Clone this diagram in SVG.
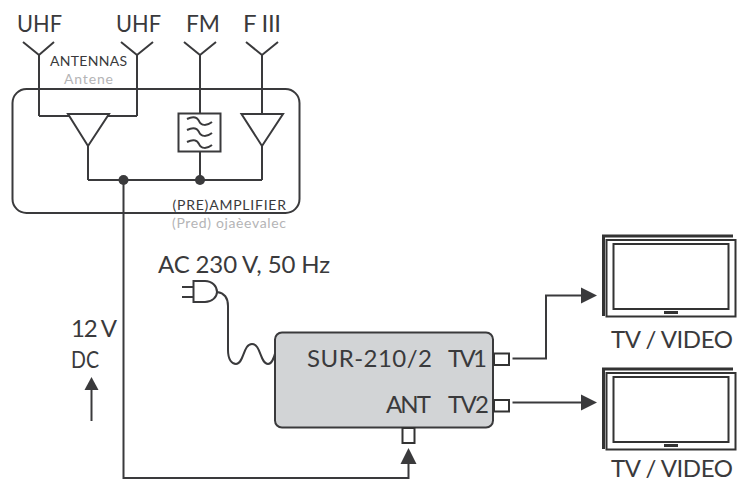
<svg xmlns="http://www.w3.org/2000/svg" width="748" height="482" viewBox="0 0 748 482">
<style>
text{font-family:Lato,"Liberation Sans",Arial,sans-serif;fill:#3a3a3c}
.l{fill:none;stroke:#3a3a3c;stroke-width:2}
.t{font-size:24px}
.s{font-size:14px}
.g{fill:#b4b4b6}
.a{fill:#3a3a3c;stroke:none}
.tv{fill:#fff;stroke:#333;stroke-width:2}
</style>
<rect width="748" height="482" fill="#fff"/>
<g id="preamplifier">
<rect class="l" x="12.500" y="89" width="287" height="124" rx="14"/>
<text class="s" x="172.500" y="210" textLength="113.500">(PRE)AMPLIFIER</text>
<text class="s g" x="172" y="228" textLength="114">(Pred) ojaèevalec</text>
</g>
<g id="antenna-uhf-1">
<path class="l" d="M23 42L39 55L54 42M39 55V116"/>
<text class="t" x="17" y="32" textLength="45" lengthAdjust="spacingAndGlyphs">UHF</text>
</g>
<g id="antenna-uhf-2">
<path class="l" d="M121 42L137 55L153 42M137 55V116"/>
<text class="t" x="116" y="32" textLength="45" lengthAdjust="spacingAndGlyphs">UHF</text>
</g>
<g id="antenna-fm">
<path class="l" d="M184 42L200 55L216 42M200 55V113"/>
<text class="t" x="186" y="32" textLength="34" lengthAdjust="spacingAndGlyphs">FM</text>
</g>
<g id="antenna-fiii">
<path class="l" d="M246 42L262 55L278 42M262 55V114"/>
<text class="t" x="243" y="32" textLength="38">F III</text>
</g>
<g id="antennas-label">
<text class="s" x="50" y="66" textLength="77">ANTENNAS</text>
<text class="s g" x="64" y="84" textLength="49">Antene</text>
</g>
<g id="amp-uhf">
<path class="l" d="M39 116H69M108 116H137"/>
<path class="l" d="M68 114H109L88 146Z"/>
<path class="l" d="M88 146V180"/>
</g>
<g id="filter-fm">
<rect class="l" x="178.500" y="113.500" width="42" height="38"/>
<path class="l" d="M187 119C193 116 197 117 199 121C201 126 207 126 212 122M187 130C193 127 197 128 199 132C201 137 207 137 212 133M187 142C193 139 197 140 199 144C201 149 207 149 212 145" stroke-width="1.500"/>
<path class="l" d="M200 152V180"/>
</g>
<g id="amp-fiii">
<path class="l" d="M241.500 114H283L262 146Z"/>
<path class="l" d="M262 146V180"/>
</g>
<g id="connectors">
<path class="l" d="M88 180H262"/>
<circle class="a" cx="123.500" cy="180" r="5"/>
<circle class="a" cx="200" cy="180" r="5"/>
<path class="l" d="M123.500 180V478H408.500V463"/>
<path class="a" d="M408.500 448L416.500 464H400.500Z"/>
<path class="l" d="M91.500 421V388"/>
<path class="a" d="M91.500 377L98.500 390H84.500Z"/>
<path class="l" d="M512.500 358.500H546V295.500H582"/>
<path class="a" d="M597 295.500L581 287.500V303.500Z"/>
<path class="l" d="M512.500 402.500H582"/>
<path class="a" d="M597 402.500L581 394.500V410.500Z"/>
</g>
<g id="power-labels">
<text class="t" x="158" y="273" textLength="172">AC 230 V, 50 Hz</text>
<text class="t" x="71" y="337" textLength="46">12 V</text>
<text class="t" x="71" y="368" textLength="28" lengthAdjust="spacingAndGlyphs">DC</text>
</g>
<g id="plug">
<path class="l" d="M182 287H193M182 297H193" stroke-width="3"/>
<path class="l" d="M193.500 281H205C212 281 217 286 217 292C217 297 212 302 205 302H193.500Z"/>
<path class="l" d="M217 292C224 293 228 298 228 306V350C228 360 232 364 236 364C244 364 243 344 252 344C261 344 260 364 268 364C272 364 274 358 276 350"/>
</g>
<g id="sur">
<rect x="275" y="332.500" width="218" height="95" rx="7" fill="#d2d4d6" stroke="#3a3a3c" stroke-width="2"/>
<rect class="tv" x="402.500" y="428" width="12" height="15"/>
<rect class="tv" x="494" y="353.500" width="15" height="11.500"/>
<rect class="tv" x="494" y="400" width="15" height="11.500"/>
<text class="t" x="307" y="367" textLength="125">SUR-210/2</text>
<text class="t" x="386" y="413" textLength="45">ANT</text>
<text class="t" x="448" y="367" textLength="39">TV1</text>
<text class="t" x="448" y="413" textLength="41">TV2</text>
</g>
<g id="tv-1">
<path d="M733 236H603.500V316" fill="none" stroke="#333" stroke-width="3"/>
<rect class="tv" x="606.500" y="240" width="129" height="76.500"/>
<rect class="tv" x="613.500" y="244" width="115" height="65"/>
<rect x="664" y="311" width="14" height="3" fill="#333"/>
<text class="t" x="611" y="348" textLength="122">TV / VIDEO</text>
</g>
<g id="tv-2">
<path d="M733 369H603.500V449" fill="none" stroke="#333" stroke-width="3"/>
<rect class="tv" x="606.500" y="373" width="129" height="76.500"/>
<rect class="tv" x="613.500" y="377" width="115" height="65"/>
<rect x="664" y="444" width="14" height="3" fill="#333"/>
<text class="t" x="611" y="477" textLength="122">TV / VIDEO</text>
</g>
</svg>
